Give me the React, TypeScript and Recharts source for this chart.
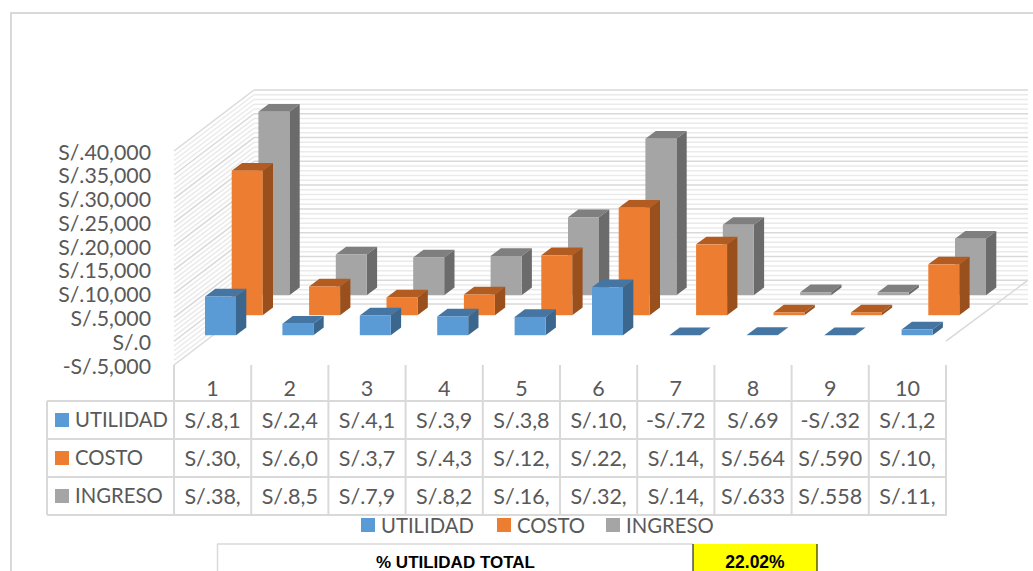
import React from "react";
import { ComposedChart, Bar, XAxis, YAxis } from "recharts";

const categories = ["1", "2", "3", "4", "5", "6", "7", "8", "9", "10"];
const utilidad = [8150, 2400, 4150, 3950, 3850, 10100, -72, 69, -32, 1200];
const costo = [30400, 6050, 3750, 4350, 12600, 22600, 14900, 564, 590, 10700];
const ingreso = [38600, 8550, 7950, 8250, 16400, 32900, 14800, 633, 558, 11900];
const yTicks = [-5000, 0, 5000, 10000, 15000, 20000, 25000, 30000, 35000, 40000];
const minorTicks = [-4000, -3000, -2000, -1000, 1000, 2000, 3000, 4000, 6000, 7000, 8000, 9000, 11000, 12000, 13000, 14000, 16000, 17000, 18000, 19000, 21000, 22000, 23000, 24000, 26000, 27000, 28000, 29000, 31000, 32000, 33000, 34000, 36000, 37000, 38000, 39000];
const rowUtilidad = ["S/.8,1", "S/.2,4", "S/.4,1", "S/.3,9", "S/.3,8", "S/.10,", "-S/.72", "S/.69", "-S/.32", "S/.1,2"];
const rowCosto = ["S/.30,", "S/.6,0", "S/.3,7", "S/.4,3", "S/.12,", "S/.22,", "S/.14,", "S/.564", "S/.590", "S/.10,"];
const rowIngreso = ["S/.38,", "S/.8,5", "S/.7,9", "S/.8,2", "S/.16,", "S/.32,", "S/.14,", "S/.633", "S/.558", "S/.11,"];
const seriesNames = ["UTILIDAD", "COSTO", "INGRESO"];
const seriesColors = ["#5B9BD5", "#ED7D31", "#A5A5A5"];
const topColors = ["#4575A3", "#B25C22", "#7F7F7F"];
const sideColors = ["#3B668E", "#9A501C", "#6B6B6B"];

const W = 1033, H = 571;
const PLOT_TOP = 151, PLOT_BOTTOM = 365, PLOT_LEFT = 174, PLOT_RIGHT = 946;
const DEPTH_X = 80, DEPTH_Y = 61;
const GRID = "#D9D9D9", MINOR = "#EAEAEA", TEXT = "#595959";
const FONT = "Lato, sans-serif";
const toY = (v: number) => PLOT_BOTTOM - ((v + 5000) / 45000) * (PLOT_BOTTOM - PLOT_TOP);
const STEP = (PLOT_RIGHT - PLOT_LEFT) / categories.length;
const money = (v: number) => (v < 0 ? "-" : "") + "S/." + Math.abs(v).toLocaleString("en-US");

const Walls = () => {
  const wall = (v: number, color: string, w: number) => {
    const y = toY(v);
    return (
      <g key={v}>
        <line x1={PLOT_LEFT} y1={y} x2={PLOT_LEFT + DEPTH_X} y2={y - DEPTH_Y} stroke={color} strokeWidth={w} />
        <line x1={PLOT_LEFT + DEPTH_X} y1={y - DEPTH_Y} x2={1028} y2={y - DEPTH_Y} stroke={color} strokeWidth={w} />
      </g>
    );
  };
  return (
    <g>
      {minorTicks.map((v) => wall(v, MINOR, 1.5))}
      {yTicks.map((v) => wall(v, GRID, 1.5))}
      <line x1={PLOT_RIGHT} y1={toY(0)} x2={1028} y2={toY(0) - DEPTH_Y} stroke={GRID} strokeWidth={1.5} />
    </g>
  );
};

const DataTable = () => {
  const rows = [rowUtilidad, rowCosto, rowIngreso];
  const tableLeft = 47, rowTop = 401, rowH = 38;
  return (
    <g fontFamily={FONT} fill={TEXT}>
      {Array.from({ length: categories.length + 1 }).map((_, i) => (
        <line key={i} x1={PLOT_LEFT + STEP * i} y1={PLOT_BOTTOM} x2={PLOT_LEFT + STEP * i} y2={rowTop + rowH * 3} stroke={GRID} strokeWidth={2} />
      ))}
      {[0, 1, 2, 3].map((i) => (
        <line key={i} x1={tableLeft} y1={rowTop + rowH * i} x2={PLOT_RIGHT + 1} y2={rowTop + rowH * i} stroke={GRID} strokeWidth={2} />
      ))}
      <line x1={tableLeft} y1={rowTop} x2={tableLeft} y2={rowTop + rowH * 3} stroke={GRID} strokeWidth={2} />
      {rows.map((row, r) => (
        <g key={r}>
          <rect x={55} y={rowTop + rowH * r + 12} width={14} height={14} fill={seriesColors[r]} />
          <text x={75} y={rowTop + rowH * r + 18} dominantBaseline="central" fontSize={20.3}>{seriesNames[r]}</text>
          {row.map((t, i) => (
            <text key={i} x={PLOT_LEFT + STEP * (i + 0.5)} y={rowTop + rowH * r + 19} dominantBaseline="central" textAnchor="middle" fontSize={21.5}>{t}</text>
          ))}
        </g>
      ))}
      {[361, 497, 606].map((x, i) => (
        <g key={i}>
          <rect x={x} y={518} width={14} height={14} fill={seriesColors[i]} />
          <text x={x + 20} y={525} dominantBaseline="central" fontSize={20.3}>{seriesNames[i]}</text>
        </g>
      ))}
    </g>
  );
};

const Frame = () => (
  <g>
    <line x1={11} y1={13} x2={W} y2={13} stroke={GRID} strokeWidth={2} />
    <line x1={11} y1={12} x2={11} y2={H} stroke={GRID} strokeWidth={2} />
    <line x1={217} y1={544} x2={693} y2={544} stroke={GRID} strokeWidth={1.5} />
    <line x1={217.5} y1={544} x2={217.5} y2={H} stroke={GRID} strokeWidth={1.5} />
    <rect x={693} y={544} width={124} height={30} fill="#FFFF00" />
    <line x1={693} y1={544} x2={693} y2={H} stroke="#000" strokeWidth={1} />
    <line x1={817} y1={544} x2={817} y2={H} stroke="#000" strokeWidth={1} />
    <text x={455.5} y={562} dominantBaseline="central" textAnchor="middle" fontFamily="Liberation Sans, sans-serif" fontWeight={700} fontSize={17} fill="#000">% UTILIDAD TOTAL</text>
    <text x={755} y={562} dominantBaseline="central" textAnchor="middle" fontFamily="Liberation Sans, sans-serif" fontWeight={700} fontSize={17.5} fill="#000">22.02%</text>
  </g>
);

// series index: 0 utilidad (front), 1 costo, 2 ingreso (back); drawn back to front.
const BAR_W = 31, BAR_DX = 10.3, BAR_DY = 7.7;
const makeShape = (series: number, slot: number) => (props: any) => {
  const { x, y, width, height, index } = props;
  const center = x + width / 2 - (slot - 1) * width + 0.2 * index;
  const top0 = Math.min(y, y + height);
  const bottom0 = Math.max(y, y + height);
  const isNeg = [utilidad, costo, ingreso][series][index] < 0;
  const zero = isNeg ? top0 : bottom0;
  const shiftY = 6 + 20 * series;
  const left = center - 8 + 26.7 * series;
  const right = left + BAR_W;
  const base = zero - shiftY;
  const top = isNeg ? base : top0 - shiftY;
  return (
    <g>
      <polygon points={`${left},${top} ${right},${top} ${right + BAR_DX},${top - BAR_DY} ${left + BAR_DX},${top - BAR_DY}`} fill={topColors[series]} />
      <polygon points={`${right},${top} ${right + BAR_DX},${top - BAR_DY} ${right + BAR_DX},${base - BAR_DY} ${right},${base}`} fill={sideColors[series]} />
      {base > top && <rect x={left} y={top} width={BAR_W} height={base - top} fill={seriesColors[series]} />}
    </g>
  );
};

const data = categories.map((c, i) => ({ c, utilidad: utilidad[i], costo: costo[i], ingreso: ingreso[i] }));

const XTick = (p: any) => (
  <text x={p.x} y={PLOT_BOTTOM + 23} textAnchor="middle" dominantBaseline="central" fill={TEXT} fontSize={21.5} fontFamily={FONT}>{p.payload.value}</text>
);
const YTick = (p: any) => (
  <text x={p.x} y={p.y + 0.5} textAnchor="end" dominantBaseline="central" fill={TEXT} fontSize={21.3} fontFamily={FONT}>{money(p.payload.value)}</text>
);

export default function App() {
  return (
    <div style={{ position: "absolute", left: 0, top: 0, width: W, height: H, overflow: "hidden", background: "#fff" }}>
      <ComposedChart width={W} height={H} data={data} barGap={0} barCategoryGap={0} margin={{ top: PLOT_TOP, right: W - PLOT_RIGHT, bottom: 0, left: 0 }}>
        <Frame />
        <Walls />
        <XAxis dataKey="c" height={H - PLOT_BOTTOM} axisLine={false} tickLine={false} tickSize={0} tick={XTick} interval={0} />
        <YAxis width={PLOT_LEFT} domain={[-5000, 40000]} ticks={yTicks} interval={0} axisLine={false} tickLine={false} tickSize={0} tickMargin={23} tick={YTick} />
        <Bar dataKey="ingreso" barSize={20} isAnimationActive={false} shape={makeShape(2, 0)} />
        <Bar dataKey="costo" barSize={20} isAnimationActive={false} shape={makeShape(1, 1)} />
        <Bar dataKey="utilidad" barSize={20} isAnimationActive={false} shape={makeShape(0, 2)} />
        <DataTable />
      </ComposedChart>
    </div>
  );
}
